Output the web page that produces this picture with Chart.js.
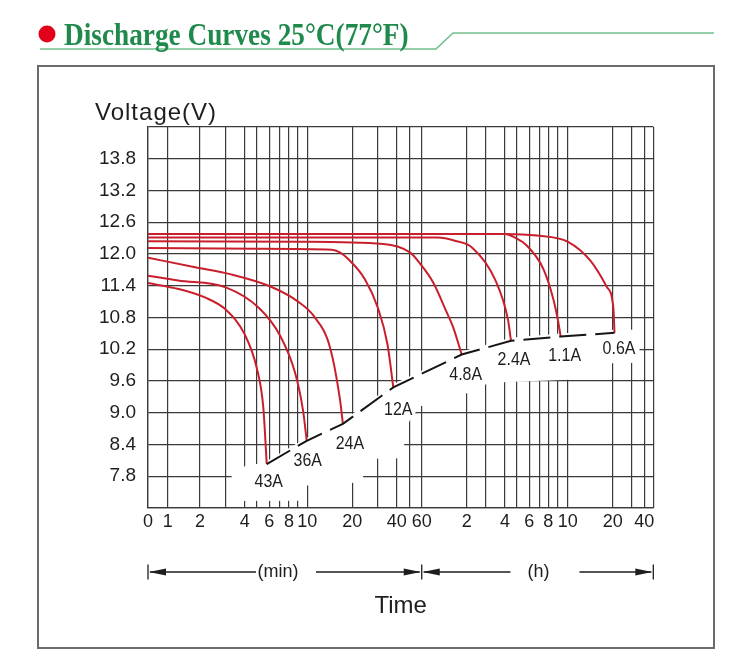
<!DOCTYPE html>
<html>
<head>
<meta charset="utf-8">
<script src="https://cdn.jsdelivr.net/npm/chart.js@4.4.1/dist/chart.umd.min.js"></script>
<style>
  html, body { margin: 0; padding: 0; background: #fff; }
  #wrap { width: 750px; height: 671px; position: relative; }
</style>
</head>
<body>
<div id="wrap"><canvas id="c" width="750" height="671"></canvas></div>
<script>
// ---------------- data ----------------
const TITLE = 'Discharge Curves 25°C(77°F)';
const Y_TITLE = 'Voltage(V)';
const X_TITLE = 'Time';
const UNIT_MIN = '(min)';
const UNIT_H = '(h)';

const Y_RANGE = [7.2, 14.4];
const Y_TICKS = [7.8, 8.4, 9.0, 9.6, 10.2, 10.8, 11.4, 12.0, 12.6, 13.2, 13.8];

// x axis: minutes part then hours part
const X_TICKS_MIN = [0, 1, 2, 4, 6, 8, 10, 20, 40, 60];      // labelled, minutes
const X_TICKS_H = [2, 4, 6, 8, 10, 20, 40];                   // labelled, hours
const X_GRID_MIN = [0, 1, 2, 3, 4, 5, 6, 7, 8, 9, 10, 20, 30, 40, 50, 60];
const X_GRID_H = [2, 3, 4, 5, 6, 7, 8, 9, 10, 20, 30, 40, 50];

const CURRENTS = ['43A', '36A', '24A', '12A', '4.8A', '2.4A', '1.1A', '0.6A'];

// time in minutes, voltage in V
const T_43A = [0, 1.26, 2.16, 3.0, 4.0, 5.0, 5.5, 5.78];
const V_43A = [11.45, 11.34, 11.18, 10.95, 10.48, 9.85, 9.1, 8.03];

const T_36A = [0, 1.25, 3.0, 5.17, 7.07, 8.71, 9.56, 9.94];
const V_36A = [11.59, 11.50, 11.37, 10.98, 10.46, 9.76, 9.04, 8.47];

const T_24A = [0, 1.8, 3.2, 6.05, 9.07, 11.1, 14.2, 16.6, 17.3];
const V_24A = [11.93, 11.75, 11.62, 11.39, 11.10, 10.82, 10.23, 9.22, 8.79];

const T_12A = [0, 5, 14.6, 16.5, 18.7, 24.5, 30.1, 34.8, 38.0];
const V_12A = [12.115, 12.10, 12.08, 12.03, 11.91, 11.52, 10.98, 10.29, 9.48];

const T_4_8A = [0, 9.3, 32.6, 50.5, 58.5, 71.6, 88.1, 97.6, 111.1];
const V_4_8A = [12.24, 12.23, 12.19, 12.03, 11.82, 11.46, 10.90, 10.61, 10.10];

const T_2_4A = [0, 76.9, 100, 135, 206.8, 253.7, 268.3];
const V_2_4A = [12.31, 12.31, 12.25, 12.12, 11.52, 10.76, 10.36];

const T_1_1A = [0, 240, 289, 346.5, 445.6, 511, 543.4, 557];
const V_1_1A = [12.38, 12.38, 12.31, 12.16, 11.72, 11.15, 10.71, 10.44];

const T_0_6A = [0, 240, 403.5, 603, 859, 1094, 1216, 1247];
const V_0_6A = [12.38, 12.38, 12.35, 12.23, 11.86, 11.38, 10.98, 10.51];

const SERIES_T = [T_43A, T_36A, T_24A, T_12A, T_4_8A, T_2_4A, T_1_1A, T_0_6A];
const SERIES_V = [V_43A, V_36A, V_24A, V_12A, V_4_8A, V_2_4A, V_1_1A, V_0_6A];

// ---------------- style / layout ----------------
const RED = '#c91f2c';
const INK = '#1e1e1e';
const GRID = '#3a3a3a';
// relative position of each x grid line across the plot width (the printed grid is hand-warped)
const GRID_POS = [0, .0390, .1029, .1538, .1914, .2151, .2401, .2598, .2790, .2955, .3153,
  .4043, .4546, .4922, .5171, .5417,
  .6307, .6683, .7065, .7303, .7546, .7744, .7922, .8108, .8306, .9197, .9573, .9822, 1];
// label offsets (px) from curve end
const LABEL_OFF = [[2, 18], [1, 20], [7, 20], [5, 22], [4, 20], [3, 19], [4, 19], [4.5, 16]];

const GRID_T = X_GRID_MIN.concat(X_GRID_H.map(h => h * 60));

function warp(t) {
  if (t <= GRID_T[0]) return GRID_POS[0];
  for (let i = 0; i < GRID_T.length - 1; i++) {
    const a = GRID_T[i], b = GRID_T[i + 1];
    if (t <= b) {
      const f = a <= 0 ? (t - a) / (b - a) : Math.log(t / a) / Math.log(b / a);
      return GRID_POS[i] + f * (GRID_POS[i + 1] - GRID_POS[i]);
    }
  }
  return 1;
}
function unwarp(p) {
  if (p <= 0) return GRID_T[0];
  for (let i = 0; i < GRID_POS.length - 1; i++) {
    const pa = GRID_POS[i], pb = GRID_POS[i + 1];
    if (p <= pb) {
      const f = (p - pa) / (pb - pa);
      const a = GRID_T[i], b = GRID_T[i + 1];
      return a <= 0 ? a + f * (b - a) : a * Math.pow(b / a, f);
    }
  }
  return GRID_T[GRID_T.length - 1];
}

class WarpScale extends Chart.LinearScale {
  getPixelForValue(v) {
    if (v === null || v === undefined || isNaN(v)) return NaN;
    return this.getPixelForDecimal(warp(v));
  }
  getValueForPixel(p) { return unwarp(this.getDecimalForPixel(p)); }
}
WarpScale.id = 'warp';
WarpScale.defaults = Chart.LinearScale.defaults;
Chart.register(WarpScale);

function xLabel(v) {
  if (v <= 60) return X_TICKS_MIN.includes(v) ? String(v) : '';
  const h = v / 60;
  return X_TICKS_H.includes(h) ? String(h) : '';
}

const curveSets = CURRENTS.map((name, i) => ({
  label: name,
  data: SERIES_T[i].map((t, k) => ({ x: t, y: SERIES_V[i][k] })),
  borderColor: RED,
  borderWidth: 2,
  pointRadius: 0,
  cubicInterpolationMode: 'monotone',
  fill: false
}));
const cutoffSet = {
  label: 'end',
  data: SERIES_T.map((ts, i) => ({ x: ts[ts.length - 1], y: SERIES_V[i][SERIES_V[i].length - 1] })),
  borderColor: '#151515',
  borderWidth: 2,
  borderDash: [27, 9],
  pointRadius: 0,
  tension: 0,
  fill: false
};

function ends(chart) {
  const xs = chart.scales.x, ys = chart.scales.y;
  return SERIES_T.map((ts, i) => ({
    x: xs.getPixelForValue(ts[ts.length - 1]),
    y: ys.getPixelForValue(SERIES_V[i][SERIES_V[i].length - 1])
  }));
}

function arrowHead(ctx, x, y, dir) {
  ctx.beginPath();
  ctx.moveTo(x, y);
  ctx.lineTo(x - dir * 17, y - 3.6);
  ctx.lineTo(x - dir * 17, y + 3.6);
  ctx.closePath();
  ctx.fill();
}

const decor = {
  id: 'decor',
  beforeDraw(chart) {
    const ctx = chart.ctx;
    ctx.save();
    ctx.fillStyle = '#fff';
    ctx.fillRect(0, 0, chart.width, chart.height);
    // outer frame
    ctx.strokeStyle = '#6b6b6b';
    ctx.lineWidth = 2;
    ctx.strokeRect(38, 66, 676, 582);
    // header rule
    ctx.strokeStyle = '#72c08f';
    ctx.lineWidth = 1.6;
    ctx.beginPath();
    ctx.moveTo(40, 49); ctx.lineTo(436, 49); ctx.lineTo(453, 33); ctx.lineTo(714, 33);
    ctx.stroke();
    // red dot
    ctx.fillStyle = '#e2001a';
    ctx.beginPath(); ctx.arc(47, 34, 8.5, 0, Math.PI * 2); ctx.fill();
    // title
    ctx.fillStyle = '#1f8a4b';
    ctx.font = 'bold 31px "Liberation Serif", "DejaVu Serif", serif';
    ctx.textAlign = 'left';
    ctx.textBaseline = 'alphabetic';
    ctx.save();
    ctx.translate(64, 45);
    ctx.scale(0.88, 1);
    ctx.fillText(TITLE, 0, 0);
    ctx.restore();
    // y title
    ctx.fillStyle = INK;
    ctx.font = '24px "Liberation Sans", Arial, sans-serif';
    try { ctx.letterSpacing = '1px'; } catch (e) {}
    ctx.fillText(Y_TITLE, 95, 120);
    try { ctx.letterSpacing = '0px'; } catch (e) {}
    ctx.restore();
  },
  beforeDatasetsDraw(chart) {
    const ctx = chart.ctx;
    const E = ends(chart);
    const top = [];
    top.push([E[0].x - 35, E[0].y + 5]);
    top.push([E[0].x - 10, E[0].y]);
    E.forEach(e => top.push([e.x, e.y - 3]));
    top.push([E[7].x + 25, E[7].y - 3]);
    const bottom = [
      [E[7].x + 25, E[7].y + 30],
      [E[7].x - 30, E[7].y + 31],
      [E[6].x + 14, E[6].y + 43],
      [E[5].x - 22, E[5].y + 42],
      [E[4].x + 8, E[4].y + 38],
      [E[4].x - 42, E[4].y + 52],
      [E[3].x + 12, E[3].y + 40],
      [E[3].x + 10, E[3].y + 71],
      [E[2].x + 22, E[2].y + 35],
      [E[2].x + 20, E[2].y + 55],
      [E[2].x + 12, E[2].y + 59],
      [E[1].x - 4, E[1].y + 45],
      [E[1].x - 4, E[1].y + 60],
      [E[0].x - 35, E[0].y + 37]
    ];
    const pts = top.concat(bottom);
    ctx.save();
    ctx.fillStyle = '#fff';
    ctx.beginPath();
    pts.forEach((p, i) => i ? ctx.lineTo(p[0], p[1]) : ctx.moveTo(p[0], p[1]));
    ctx.closePath();
    ctx.fill();
    ctx.restore();
  },
  afterDraw(chart) {
    const ctx = chart.ctx;
    const E = ends(chart);
    ctx.save();
    // curve labels
    ctx.fillStyle = INK;
    ctx.font = '19px "Liberation Sans", Arial, sans-serif';
    ctx.textAlign = 'center';
    ctx.textBaseline = 'middle';
    E.forEach((e, i) => {
      ctx.save();
      ctx.translate(e.x + LABEL_OFF[i][0], e.y + LABEL_OFF[i][1]);
      ctx.scale(0.84, 1);
      ctx.fillText(CURRENTS[i], 0, 0);
      ctx.restore();
    });
    // unit arrows
    const xs = chart.scales.x;
    const x0 = xs.getPixelForValue(0);
    const x1 = xs.getPixelForValue(60);
    const x2 = xs.getPixelForValue(GRID_T[GRID_T.length - 1]);
    const y = 572;
    ctx.strokeStyle = INK;
    ctx.fillStyle = INK;
    ctx.lineWidth = 1.3;
    [x0, x1, x2].forEach(x => { ctx.beginPath(); ctx.moveTo(x, y - 7.5); ctx.lineTo(x, y + 7.5); ctx.stroke(); });
    const cMin = x0 + (x1 - x0) * 0.475;
    const cH = x1 + (x2 - x1) * 0.504;
    ctx.beginPath();
    ctx.moveTo(x0 + 2, y); ctx.lineTo(cMin - 22, y);
    ctx.moveTo(cMin + 38, y); ctx.lineTo(x1 - 2, y);
    ctx.moveTo(x1 + 2, y); ctx.lineTo(cH - 28, y);
    ctx.moveTo(cH + 41, y); ctx.lineTo(x2 - 2, y);
    ctx.stroke();
    arrowHead(ctx, x0 + 1, y, -1);
    arrowHead(ctx, x1 - 1, y, 1);
    arrowHead(ctx, x1 + 1, y, -1);
    arrowHead(ctx, x2 - 1, y, 1);
    ctx.font = '18px "Liberation Sans", Arial, sans-serif';
    ctx.textAlign = 'center';
    ctx.textBaseline = 'middle';
    ctx.fillText(UNIT_MIN, cMin, y);
    ctx.fillText(UNIT_H, cH, y);
    ctx.restore();
  }
};

new Chart(document.getElementById('c'), {
  type: 'line',
  data: { datasets: [cutoffSet].concat(curveSets) },
  options: {
    responsive: false,
    devicePixelRatio: 1,
    animation: false,
    layout: { padding: { left: 40, right: 96.7, top: 127, bottom: 0 } },
    plugins: { legend: { display: false }, tooltip: { enabled: false }, title: { display: false } },
    scales: {
      x: {
        type: 'warp',
        min: GRID_T[0],
        max: GRID_T[GRID_T.length - 1],
        afterBuildTicks: s => { s.ticks = GRID_T.map(v => ({ value: v })); },
        afterFit: s => { s.height = 163; },
        ticks: {
          autoSkip: false, maxRotation: 0, minRotation: 0, padding: 3,
          color: INK,
          font: { family: '"Liberation Sans", Arial, sans-serif', size: 18 },
          callback: v => xLabel(v)
        },
        grid: { color: GRID, lineWidth: 1.2, drawTicks: false },
        border: { display: true, color: GRID, width: 1.3 },
        title: {
          display: true, text: X_TITLE, color: INK,
          font: { family: '"Liberation Sans", Arial, sans-serif', size: 24 },
          padding: { top: 0, bottom: 50 }
        }
      },
      y: {
        type: 'linear',
        min: Y_RANGE[0],
        max: Y_RANGE[1],
        afterBuildTicks: s => { s.ticks = [Y_RANGE[0]].concat(Y_TICKS, [Y_RANGE[1]]).map(v => ({ value: v })); },
        afterFit: s => { s.width = 108; },
        ticks: {
          autoSkip: false, padding: 12, color: INK,
          font: { family: '"Liberation Sans", Arial, sans-serif', size: 19 },
          callback: v => Y_TICKS.includes(v) ? v.toFixed(1) : ''
        },
        grid: { color: GRID, lineWidth: 1.2, drawTicks: false },
        border: { display: true, color: GRID, width: 1.3 }
      }
    }
  },
  plugins: [decor]
});
</script>
</body>
</html>
